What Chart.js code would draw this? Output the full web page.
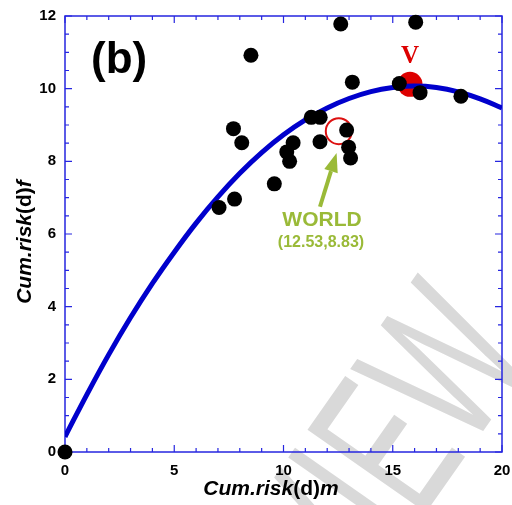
<!DOCTYPE html>
<html>
<head>
<meta charset="utf-8">
<script src="https://cdn.jsdelivr.net/npm/chart.js@4.4.1/dist/chart.umd.min.js"></script>
<style>
  html, body { margin: 0; padding: 0; background: #fff; }
  #wrap { width: 512px; height: 505px; }
</style>
</head>
<body>
<div id="wrap"><canvas id="myChart" width="512" height="505"></canvas></div>
<script>
// fitted curve
const curveX = [0, 1, 2, 3, 4, 5, 6, 7, 8, 9, 10, 11, 12, 13, 14, 15, 16, 17, 18, 19, 20];
const curveY = [0.42, 1.58, 2.68, 3.7, 4.64, 5.5, 6.3, 7.02, 7.67, 8.24, 8.73, 9.14, 9.47, 9.73, 9.92, 10.03, 10.07, 10.03, 9.91, 9.72, 9.47];

// country points
const dotX = [0, 7.05, 7.76, 7.71, 8.09, 8.51, 9.58, 10.15, 10.28, 10.44, 11.27, 11.68, 11.67, 12.62, 12.89, 12.98, 13.07, 13.15, 15.3, 16.05, 16.25, 18.12];
const dotY = [0, 6.73, 6.96, 8.9, 8.51, 10.92, 7.38, 8.26, 8.0, 8.51, 9.21, 9.21, 8.54, 11.78, 8.86, 8.39, 8.09, 10.18, 10.14, 11.83, 9.89, 9.79];

const vPoint = [15.79, 10.12];
const worldPoint = [12.53, 8.83];
const worldLabel = 'WORLD';
const worldValue = '(12.53,8.83)';

const xTicks = [0, 5, 10, 15, 20];
const yTicks = [0, 2, 4, 6, 8, 10, 12];

const axisBlue = '#2626e0';
const green = '#9aba38';

const toPts = (xs, ys) => xs.map((x, i) => ({ x: x, y: ys[i] }));

function mixedText(ctx, parts, x, y) {
  let total = 0;
  parts.forEach(p => { ctx.font = p.f; total += ctx.measureText(p.t).width; });
  let cx = x - total / 2;
  parts.forEach(p => {
    ctx.font = p.f;
    ctx.fillText(p.t, cx, y);
    cx += ctx.measureText(p.t).width;
  });
}

const extras = {
  id: 'extras',
  beforeDraw(chart) {
    // watermark behind everything
    const ctx = chart.ctx;
    ctx.save();
    ctx.translate(420, 521);
    ctx.rotate(-55 * Math.PI / 180);
    ctx.scale(0.6, 1);
    ctx.font = '210px "Liberation Sans", Arial, sans-serif';
    ctx.fillStyle = '#d9d9d9';
    ctx.textBaseline = 'alphabetic';
    ctx.fillText('PREVIEW', -ctx.measureText('PREVI').width, 0);
    ctx.restore();
  },
  beforeDatasetsDraw(chart) {
    const ctx = chart.ctx;
    const a = chart.chartArea;
    const xs = chart.scales.x, ys = chart.scales.y;
    ctx.save();
    ctx.strokeStyle = axisBlue;
    ctx.lineWidth = 1.5;
    ctx.strokeRect(a.left, a.top, a.right - a.left, a.bottom - a.top);
    ctx.lineWidth = 1.2;
    ctx.beginPath();
    for (let v = 0; v <= 20; v++) {
      const px = xs.getPixelForValue(v);
      const len = v % 5 === 0 ? 7 : 4;
      ctx.moveTo(px, a.bottom); ctx.lineTo(px, a.bottom - len);
      ctx.moveTo(px, a.top); ctx.lineTo(px, a.top + len);
    }
    for (let v = 0; v <= 24; v++) {
      const py = ys.getPixelForValue(v / 2);
      const len = v % 4 === 0 ? 7 : 4;
      ctx.moveTo(a.left, py); ctx.lineTo(a.left + len, py);
      ctx.moveTo(a.right, py); ctx.lineTo(a.right - len, py);
    }
    ctx.stroke();
    ctx.restore();
  },
  afterDatasetsDraw(chart) {
    const ctx = chart.ctx;
    const xs = chart.scales.x, ys = chart.scales.y;
    ctx.save();
    // panel tag
    ctx.fillStyle = '#000';
    ctx.font = 'bold 44px "Liberation Sans", Arial, sans-serif';
    ctx.textAlign = 'left';
    ctx.textBaseline = 'alphabetic';
    ctx.fillText('(b)', 91, 73);

    // V label
    ctx.fillStyle = '#dd0000';
    ctx.font = 'bold 25px "Liberation Serif", "Times New Roman", serif';
    ctx.textAlign = 'center';
    ctx.textBaseline = 'middle';
    ctx.fillText('V', xs.getPixelForValue(vPoint[0]), ys.getPixelForValue(vPoint[1]) - 28);

    // arrow to WORLD
    const tx = xs.getPixelForValue(11.67), ty = ys.getPixelForValue(6.75);
    const hx = xs.getPixelForValue(12.43), hy = ys.getPixelForValue(8.23);
    const ang = Math.atan2(hy - ty, hx - tx);
    const hl = 19, hw = 7;
    const bx = hx - hl * Math.cos(ang), by = hy - hl * Math.sin(ang);
    ctx.strokeStyle = green;
    ctx.fillStyle = green;
    ctx.lineWidth = 4;
    ctx.beginPath();
    ctx.moveTo(tx, ty);
    ctx.lineTo(bx, by);
    ctx.stroke();
    ctx.beginPath();
    ctx.moveTo(hx, hy);
    ctx.lineTo(bx + hw * Math.sin(ang), by - hw * Math.cos(ang));
    ctx.lineTo(bx - hw * Math.sin(ang), by + hw * Math.cos(ang));
    ctx.closePath();
    ctx.fill();

    ctx.font = 'bold 21px "Liberation Sans", Arial, sans-serif';
    ctx.fillText(worldLabel, 322, 220);
    ctx.font = 'bold 16px "Liberation Sans", Arial, sans-serif';
    ctx.fillText(worldValue, 321, 243);

    // axis titles
    ctx.fillStyle = '#000';
    ctx.textAlign = 'left';
    ctx.textBaseline = 'middle';
    const it = 'italic bold 21px "Liberation Sans", Arial, sans-serif';
    const up = 'bold 21px "Liberation Sans", Arial, sans-serif';
    mixedText(ctx, [{ t: 'Cum.risk', f: it }, { t: '(d)', f: up }, { t: 'm', f: it }], 271, 489);
    ctx.translate(25, 242);
    ctx.rotate(-Math.PI / 2);
    mixedText(ctx, [{ t: 'Cum.risk', f: it }, { t: '(d)', f: up }, { t: 'f', f: it }], 0, 0);
    ctx.restore();
  }
};

const tickFont = { family: '"Liberation Sans", Arial, sans-serif', size: 15, weight: 'bold' };

const ctx = document.getElementById('myChart');

new Chart(ctx, {
  type: 'scatter',
  data: {
    datasets: [
      {
        label: 'countries',
        data: toPts(dotX, dotY),
        backgroundColor: '#000',
        borderColor: '#000',
        pointRadius: 7.5,
        borderWidth: 0,
        clip: false,
        order: 0
      },
      {
        label: 'fit',
        data: toPts(curveX, curveY),
        showLine: true,
        borderColor: '#0000cc',
        borderWidth: 5,
        pointRadius: 0,
        tension: 0.4,
        order: 1
      },
      {
        label: 'WORLD',
        data: [{ x: worldPoint[0], y: worldPoint[1] }],
        backgroundColor: 'rgba(0,0,0,0)',
        borderColor: '#dd1111',
        borderWidth: 2,
        pointRadius: 13,
        order: 2
      },
      {
        label: 'V',
        data: [{ x: vPoint[0], y: vPoint[1] }],
        backgroundColor: '#dd0000',
        borderWidth: 0,
        pointRadius: 12.5,
        order: 3
      }
    ]
  },
  options: {
    responsive: false,
    animation: false,
    layout: { autoPadding: false, padding: { top: 16, right: 10, left: 0, bottom: 0 } },
    plugins: { legend: { display: false }, tooltip: { enabled: false } },
    scales: {
      x: {
        type: 'linear',
        min: 0,
        max: 20,
        afterBuildTicks: s => { s.ticks = xTicks.map(v => ({ value: v })); },
        afterFit: s => { s.height = 53; s.paddingLeft = 0; s.paddingRight = 0; },
        grid: { display: false, drawTicks: false },
        border: { display: false },
        ticks: { color: '#000', font: tickFont, padding: 10, maxRotation: 0 }
      },
      y: {
        type: 'linear',
        min: 0,
        max: 12,
        afterBuildTicks: s => { s.ticks = yTicks.map(v => ({ value: v })); },
        afterFit: s => { s.width = 65; s.paddingTop = 0; s.paddingBottom = 0; },
        grid: { display: false, drawTicks: false },
        border: { display: false },
        ticks: { color: '#000', font: tickFont, padding: 9 }
      }
    }
  },
  plugins: [extras]
});
</script>
</body>
</html>
